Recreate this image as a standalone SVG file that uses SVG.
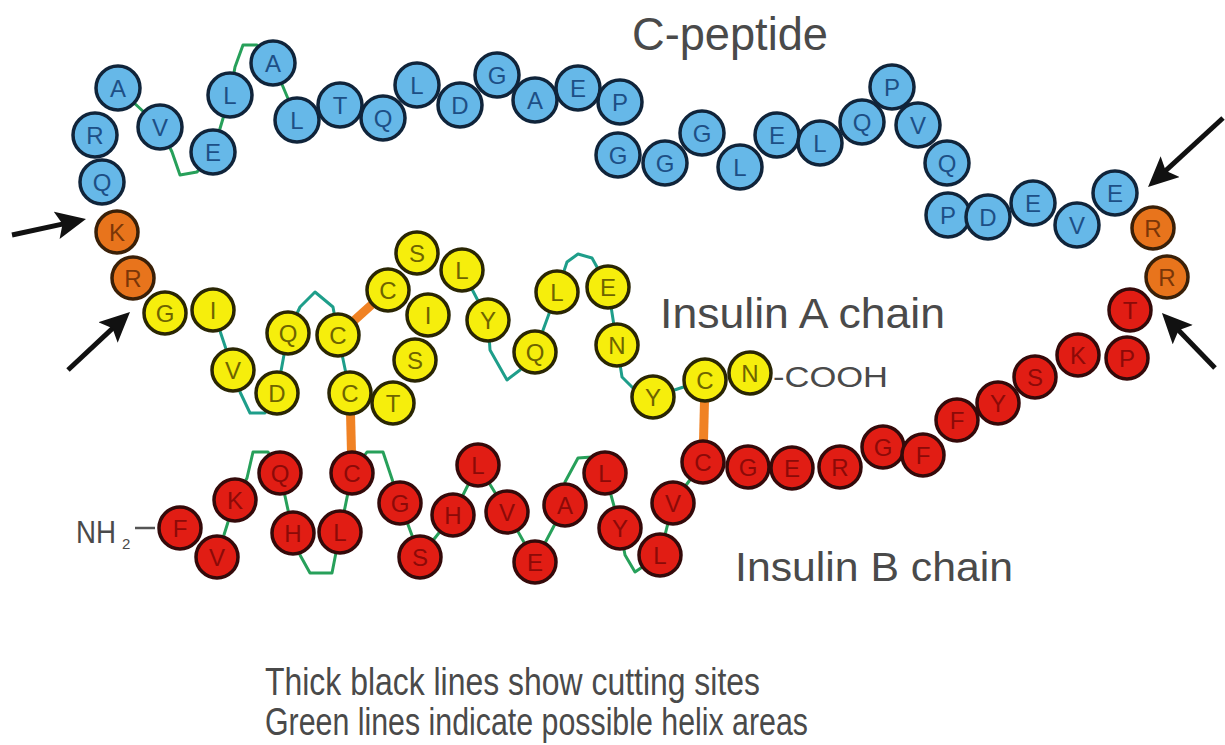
<svg xmlns="http://www.w3.org/2000/svg" width="1225" height="745" viewBox="0 0 1225 745">
<style>
.b circle{fill:#66b8e8;stroke:#10243a;stroke-width:3.5}
.b text{fill:#1d4f86}
.o circle{fill:#e8741c;stroke:#3a2008;stroke-width:3.5}
.o text{fill:#7a3608}
.y circle{fill:#f6ee0c;stroke:#2a2604;stroke-width:3.5}
.y text{fill:#6e6400}
.r circle{fill:#e11d14;stroke:#340a0a;stroke-width:3.5}
.r text{fill:#8c0a08}
.n text{font-family:"Liberation Sans",Arial,sans-serif;font-size:24px;text-anchor:middle;dominant-baseline:central}
.lab{font-family:"Liberation Sans",Arial,sans-serif;fill:#4a4a4a}
.helix{fill:none;stroke:#27a05a;stroke-width:3;stroke-linejoin:round}
.helixA{stroke:#1e9e8a}
.ss{stroke:#f08224;stroke-width:9}
.arrow{stroke:#111;stroke-width:5;marker-end:url(#ah)}
</style>
<defs>
<marker id="ah" markerUnits="userSpaceOnUse" markerWidth="32" markerHeight="30" refX="20" refY="14" orient="auto">
<path d="M0,0 L30,14 L0,28 L6,14 Z" fill="#111"/>
</marker>
</defs>
<rect width="1225" height="745" fill="#fff"/>
<g id="connectors">
<polyline class="helix" points="118,88 160,127 172,152 180,175 197,172 213,152 230,95 235,67 243,45 257,45 273,63 297,120"/>
<polyline class="helix helixA" points="213,310 233,370 240,392 250,413 265,413 277,393 288,333 300,307 315,292 333,307 338,335 350,393"/>
<polyline class="helix helixA" points="462,270 488,320 490,350 507,380 520,370 535,352 557,292 567,262 578,254 592,258 608,287 617,345 622,377 633,388 653,397 705,380"/>
<polyline class="helix" points="217,557 235,500 247,478 253,452 268,452 280,473 293,533 300,555 310,573 332,573 340,532 352,473 367,452 383,452 400,503 420,557 453,515 478,465 507,512 535,562 565,505 565,482 578,458 592,457 605,473 620,528 625,555 635,572 660,555 673,503 703,462"/>
<line class="ss" x1="338" y1="335" x2="388" y2="290"/>
<line class="ss" x1="350" y1="393" x2="352" y2="473"/>
<line class="ss" x1="705" y1="380" x2="703" y2="462"/>
<line x1="135" y1="528" x2="155" y2="528" stroke="#555" stroke-width="2.5"/>
<line class="arrow" x1="12" y1="235" x2="76.2" y2="221.1"/>
<line class="arrow" x1="68" y1="370" x2="122.7" y2="318.8"/>
<line class="arrow" x1="1223" y1="118" x2="1155.4" y2="180.2"/>
<line class="arrow" x1="1215" y1="368" x2="1168.9" y2="320.2"/>
</g>
<g id="c-peptide">
<g id="cp1" class="n b"><circle cx="102" cy="182" r="22"/><text x="102" y="182">Q</text></g>
<g id="cp2" class="n b"><circle cx="95" cy="135" r="22"/><text x="95" y="135">R</text></g>
<g id="cp3" class="n b"><circle cx="118" cy="88" r="22"/><text x="118" y="88">A</text></g>
<g id="cp4" class="n b"><circle cx="160" cy="127" r="22"/><text x="160" y="127">V</text></g>
<g id="cp5" class="n b"><circle cx="213" cy="152" r="22"/><text x="213" y="152">E</text></g>
<g id="cp6" class="n b"><circle cx="230" cy="95" r="22"/><text x="230" y="95">L</text></g>
<g id="cp7" class="n b"><circle cx="273" cy="63" r="22"/><text x="273" y="63">A</text></g>
<g id="cp8" class="n b"><circle cx="297" cy="120" r="22"/><text x="297" y="120">L</text></g>
<g id="cp9" class="n b"><circle cx="340" cy="105" r="22"/><text x="340" y="105">T</text></g>
<g id="cp10" class="n b"><circle cx="383" cy="118" r="22"/><text x="383" y="118">Q</text></g>
<g id="cp11" class="n b"><circle cx="417" cy="85" r="22"/><text x="417" y="85">L</text></g>
<g id="cp12" class="n b"><circle cx="460" cy="105" r="22"/><text x="460" y="105">D</text></g>
<g id="cp13" class="n b"><circle cx="497" cy="75" r="22"/><text x="497" y="75">G</text></g>
<g id="cp14" class="n b"><circle cx="535" cy="100" r="22"/><text x="535" y="100">A</text></g>
<g id="cp15" class="n b"><circle cx="578" cy="88" r="22"/><text x="578" y="88">E</text></g>
<g id="cp16" class="n b"><circle cx="620" cy="102" r="22"/><text x="620" y="102">P</text></g>
<g id="cp17" class="n b"><circle cx="618" cy="155" r="22"/><text x="618" y="155">G</text></g>
<g id="cp18" class="n b"><circle cx="665" cy="163" r="22"/><text x="665" y="163">G</text></g>
<g id="cp19" class="n b"><circle cx="702" cy="133" r="22"/><text x="702" y="133">G</text></g>
<g id="cp20" class="n b"><circle cx="740" cy="167" r="22"/><text x="740" y="167">L</text></g>
<g id="cp21" class="n b"><circle cx="777" cy="135" r="22"/><text x="777" y="135">E</text></g>
<g id="cp22" class="n b"><circle cx="820" cy="143" r="22"/><text x="820" y="143">L</text></g>
<g id="cp23" class="n b"><circle cx="862" cy="122" r="22"/><text x="862" y="122">Q</text></g>
<g id="cp24" class="n b"><circle cx="892" cy="87" r="22"/><text x="892" y="87">P</text></g>
<g id="cp25" class="n b"><circle cx="918" cy="125" r="22"/><text x="918" y="125">V</text></g>
<g id="cp26" class="n b"><circle cx="947" cy="163" r="22"/><text x="947" y="163">Q</text></g>
<g id="cp27" class="n b"><circle cx="948" cy="215" r="22"/><text x="948" y="215">P</text></g>
<g id="cp28" class="n b"><circle cx="988" cy="217" r="22"/><text x="988" y="217">D</text></g>
<g id="cp29" class="n b"><circle cx="1033" cy="203" r="22"/><text x="1033" y="203">E</text></g>
<g id="cp30" class="n b"><circle cx="1077" cy="225" r="22"/><text x="1077" y="225">V</text></g>
<g id="cp31" class="n b"><circle cx="1115" cy="193" r="22"/><text x="1115" y="193">E</text></g>
</g>
<g id="cleavage">
<g id="k1" class="n o"><circle cx="117" cy="232" r="21"/><text x="117" y="232">K</text></g>
<g id="r1" class="n o"><circle cx="133" cy="278" r="21"/><text x="133" y="278">R</text></g>
<g id="r2" class="n o"><circle cx="1153" cy="228" r="21"/><text x="1153" y="228">R</text></g>
<g id="r3" class="n o"><circle cx="1167" cy="277" r="21"/><text x="1167" y="277">R</text></g>
</g>
<g id="a-chain">
<g id="a1" class="n y"><circle cx="165" cy="313" r="21"/><text x="165" y="313">G</text></g>
<g id="a2" class="n y"><circle cx="213" cy="310" r="21"/><text x="213" y="310">I</text></g>
<g id="a3" class="n y"><circle cx="233" cy="370" r="21"/><text x="233" y="370">V</text></g>
<g id="a4" class="n y"><circle cx="277" cy="393" r="21"/><text x="277" y="393">D</text></g>
<g id="a5" class="n y"><circle cx="288" cy="333" r="21"/><text x="288" y="333">Q</text></g>
<g id="a6" class="n y"><circle cx="338" cy="335" r="21"/><text x="338" y="335">C</text></g>
<g id="a7" class="n y"><circle cx="350" cy="393" r="21"/><text x="350" y="393">C</text></g>
<g id="a8" class="n y"><circle cx="393" cy="403" r="21"/><text x="393" y="403">T</text></g>
<g id="a9" class="n y"><circle cx="415" cy="360" r="21"/><text x="415" y="360">S</text></g>
<g id="a10" class="n y"><circle cx="428" cy="315" r="21"/><text x="428" y="315">I</text></g>
<g id="a11" class="n y"><circle cx="388" cy="290" r="21"/><text x="388" y="290">C</text></g>
<g id="a12" class="n y"><circle cx="417" cy="253" r="21"/><text x="417" y="253">S</text></g>
<g id="a13" class="n y"><circle cx="462" cy="270" r="21"/><text x="462" y="270">L</text></g>
<g id="a14" class="n y"><circle cx="488" cy="320" r="21"/><text x="488" y="320">Y</text></g>
<g id="a15" class="n y"><circle cx="535" cy="352" r="21"/><text x="535" y="352">Q</text></g>
<g id="a16" class="n y"><circle cx="557" cy="292" r="21"/><text x="557" y="292">L</text></g>
<g id="a17" class="n y"><circle cx="608" cy="287" r="21"/><text x="608" y="287">E</text></g>
<g id="a18" class="n y"><circle cx="617" cy="345" r="21"/><text x="617" y="345">N</text></g>
<g id="a19" class="n y"><circle cx="653" cy="397" r="21"/><text x="653" y="397">Y</text></g>
<g id="a20" class="n y"><circle cx="705" cy="380" r="21"/><text x="705" y="380">C</text></g>
<g id="a21" class="n y"><circle cx="750" cy="373" r="21"/><text x="750" y="373">N</text></g>
</g>
<g id="b-chain">
<g id="b1" class="n r"><circle cx="180" cy="528" r="21"/><text x="180" y="528">F</text></g>
<g id="b2" class="n r"><circle cx="217" cy="557" r="21"/><text x="217" y="557">V</text></g>
<g id="b3" class="n r"><circle cx="235" cy="500" r="21"/><text x="235" y="500">K</text></g>
<g id="b4" class="n r"><circle cx="280" cy="473" r="21"/><text x="280" y="473">Q</text></g>
<g id="b5" class="n r"><circle cx="293" cy="533" r="21"/><text x="293" y="533">H</text></g>
<g id="b6" class="n r"><circle cx="340" cy="532" r="21"/><text x="340" y="532">L</text></g>
<g id="b7" class="n r"><circle cx="352" cy="473" r="21"/><text x="352" y="473">C</text></g>
<g id="b8" class="n r"><circle cx="400" cy="503" r="21"/><text x="400" y="503">G</text></g>
<g id="b9" class="n r"><circle cx="420" cy="557" r="21"/><text x="420" y="557">S</text></g>
<g id="b10" class="n r"><circle cx="453" cy="515" r="21"/><text x="453" y="515">H</text></g>
<g id="b11" class="n r"><circle cx="478" cy="465" r="21"/><text x="478" y="465">L</text></g>
<g id="b12" class="n r"><circle cx="507" cy="512" r="21"/><text x="507" y="512">V</text></g>
<g id="b13" class="n r"><circle cx="535" cy="562" r="21"/><text x="535" y="562">E</text></g>
<g id="b14" class="n r"><circle cx="565" cy="505" r="21"/><text x="565" y="505">A</text></g>
<g id="b15" class="n r"><circle cx="605" cy="473" r="21"/><text x="605" y="473">L</text></g>
<g id="b16" class="n r"><circle cx="620" cy="528" r="21"/><text x="620" y="528">Y</text></g>
<g id="b17" class="n r"><circle cx="660" cy="555" r="21"/><text x="660" y="555">L</text></g>
<g id="b18" class="n r"><circle cx="673" cy="503" r="21"/><text x="673" y="503">V</text></g>
<g id="b19" class="n r"><circle cx="703" cy="462" r="21"/><text x="703" y="462">C</text></g>
<g id="b20" class="n r"><circle cx="748" cy="467" r="21"/><text x="748" y="467">G</text></g>
<g id="b21" class="n r"><circle cx="792" cy="468" r="21"/><text x="792" y="468">E</text></g>
<g id="b22" class="n r"><circle cx="840" cy="467" r="21"/><text x="840" y="467">R</text></g>
<g id="b23" class="n r"><circle cx="883" cy="447" r="21"/><text x="883" y="447">G</text></g>
<g id="b24" class="n r"><circle cx="923" cy="455" r="21"/><text x="923" y="455">F</text></g>
<g id="b25" class="n r"><circle cx="957" cy="420" r="21"/><text x="957" y="420">F</text></g>
<g id="b26" class="n r"><circle cx="998" cy="403" r="21"/><text x="998" y="403">Y</text></g>
<g id="b27" class="n r"><circle cx="1035" cy="377" r="21"/><text x="1035" y="377">S</text></g>
<g id="b28" class="n r"><circle cx="1078" cy="355" r="21"/><text x="1078" y="355">K</text></g>
<g id="b29" class="n r"><circle cx="1127" cy="358" r="21"/><text x="1127" y="358">P</text></g>
<g id="b30" class="n r"><circle cx="1130" cy="310" r="21"/><text x="1130" y="310">T</text></g>
</g>
<g id="labels">
<text class="lab" x="632" y="50" font-size="46" textLength="196" lengthAdjust="spacingAndGlyphs" fill="#444">C-peptide</text>
<text class="lab" x="660" y="328" font-size="42" textLength="285" lengthAdjust="spacingAndGlyphs">Insulin A chain</text>
<text class="lab" x="773" y="387" font-size="30" textLength="115" lengthAdjust="spacingAndGlyphs">-COOH</text>
<text class="lab" x="735" y="581" font-size="40" textLength="278" lengthAdjust="spacingAndGlyphs">Insulin B chain</text>
<text class="lab" x="76" y="543" font-size="32" textLength="40" lengthAdjust="spacingAndGlyphs">NH</text>
<text class="lab" x="122" y="549" font-size="15">2</text>
<text class="lab" x="265" y="695" font-size="38" textLength="495" lengthAdjust="spacingAndGlyphs">Thick black lines show cutting sites</text>
<text class="lab" x="265" y="735" font-size="38" textLength="543" lengthAdjust="spacingAndGlyphs">Green lines indicate possible helix areas</text>
</g>
</svg>
